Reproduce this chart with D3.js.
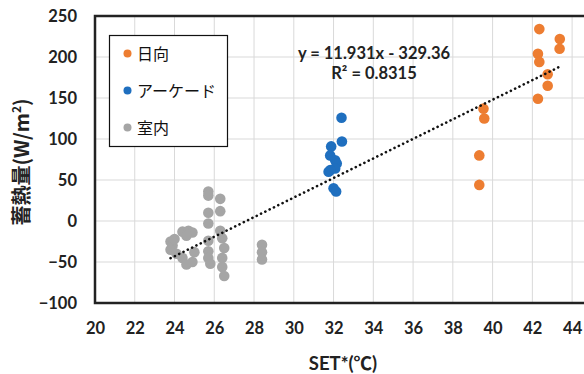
<!DOCTYPE html>
<html>
<head>
<meta charset="utf-8">
<script src="https://cdn.jsdelivr.net/npm/d3@7"></script>
<style>
  body { margin: 0; background: #fff; }
  svg { display: block; font-family: Lato, 'Noto Sans CJK JP', sans-serif; }
  .tick-label { font-size: 16.5px; font-weight: bold; fill: #222; }
  .eq { font-size: 16.5px; font-weight: bold; fill: #222; }
  .legend-label { font-size: 16px; fill: #111; font-family: 'Noto Sans CJK JP', sans-serif; }
</style>
</head>
<body>
<svg></svg>
<script>
// series data: [SET*, heat storage]
const sunny = [
  [42.35, 234], [43.38, 222], [43.37, 210], [42.28, 204], [42.35, 194],
  [42.77, 179], [42.77, 165], [42.28, 149], [39.54, 137], [39.58, 125],
  [39.33, 80], [39.33, 44]
]
const arcade = [
  [32.4, 126], [32.42, 97], [31.88, 91], [31.83, 80], [32.08, 74],
  [32.16, 70], [32.08, 64], [31.83, 62], [31.75, 60], [32.0, 40], [32.13, 36]
]
const indoor = [
  [23.8, -25], [23.9, -30], [23.8, -35], [24.0, -22], [24.1, -40],
  [24.4, -13], [24.7, -12], [24.9, -14], [24.6, -18],
  [24.4, -45], [24.6, -53], [24.9, -50], [25.0, -38],
  [25.7, 36], [25.7, 31], [26.3, 27], [26.3, 12], [25.7, 10], [25.7, -3], [26.3, -12],
  [25.7, -24], [25.7, -37], [25.7, -45], [25.8, -52],
  [26.4, -21], [26.5, -33], [26.4, -45], [26.4, -56], [26.5, -67],
  [28.4, -29], [28.4, -38], [28.4, -47]
]
const seriesNames = ['日向', 'アーケード', '室内']
const seriesColors = ['#ED7D31', '#1F6FBF', '#A5A5A5']
const xTicks = [20, 22, 24, 26, 28, 30, 32, 34, 36, 38, 40, 42, 44]
const yTicks = [-100, -50, 0, 50, 100, 150, 200, 250]
const slope = 11.931
const intercept = -329.36
const eqLines = ['y = 11.931x - 329.36', 'R² = 0.8315']

const w = 584
const h = 374
const plotLeft = 95
const plotTop = 16
const plotBottom = 303
const plotRight = 592

const svg = d3.select('svg')
  .attr('width', w)
  .attr('height', h)

const xScale = d3.scaleLinear().domain([20, 45]).range([plotLeft, plotRight])
const yScale = d3.scaleLinear().domain([-100, 250]).range([plotBottom, plotTop])

// grid
svg.append('g')
  .selectAll('line')
  .data(xTicks.slice(1))
  .enter()
  .append('line')
  .attr('x1', d => xScale(d))
  .attr('x2', d => xScale(d))
  .attr('y1', plotTop)
  .attr('y2', plotBottom)
  .attr('stroke', '#d9d9d9')

svg.append('g')
  .selectAll('line')
  .data(yTicks.slice(1))
  .enter()
  .append('line')
  .attr('x1', plotLeft)
  .attr('x2', plotRight)
  .attr('y1', d => yScale(d))
  .attr('y2', d => yScale(d))
  .attr('stroke', '#d9d9d9')

// axes (labels only, frame drawn separately)
const xAxis = d3.axisBottom(xScale).tickValues(xTicks).tickSize(0).tickPadding(19)
const gx = svg.append('g')
  .attr('transform', `translate(0, ${plotBottom})`)
  .call(xAxis)
gx.select('.domain').remove()
gx.attr('font-size', null).attr('font-family', null)
gx.selectAll('text').attr('class', 'tick-label')

const yAxis = d3.axisLeft(yScale).tickValues(yTicks).tickSize(0).tickPadding(18)
const gy = svg.append('g')
  .attr('transform', `translate(${plotLeft}, 0)`)
  .call(yAxis)
gy.select('.domain').remove()
gy.attr('font-size', null).attr('font-family', null)
gy.selectAll('text').attr('class', 'tick-label')

// plot frame
svg.append('rect')
  .attr('x', plotLeft)
  .attr('y', plotTop)
  .attr('width', plotRight - plotLeft)
  .attr('height', plotBottom - plotTop)
  .attr('fill', 'none')
  .attr('stroke', '#222')
  .attr('stroke-width', 2.5)

// points
const allSeries = [sunny, arcade, indoor]
allSeries.forEach((s, i) => {
  svg.append('g')
    .selectAll('circle')
    .data(s)
    .enter()
    .append('circle')
    .attr('cx', d => xScale(d[0]))
    .attr('cy', d => yScale(d[1]))
    .attr('r', 5.3)
    .attr('fill', seriesColors[i])
})

// linear trendline across the data range
const allX = allSeries.flat().map(d => d[0])
const x0 = d3.min(allX)
const x1 = d3.max(allX)
svg.append('line')
  .attr('x1', xScale(x0))
  .attr('y1', yScale(slope * x0 + intercept))
  .attr('x2', xScale(x1))
  .attr('y2', yScale(slope * x1 + intercept))
  .attr('stroke', '#111')
  .attr('stroke-width', 2.6)
  .attr('stroke-linecap', 'round')
  .attr('stroke-dasharray', '0.1 4.7')

// equation
svg.selectAll('.eq')
  .data(eqLines)
  .enter()
  .append('text')
  .attr('class', 'eq')
  .attr('text-anchor', 'middle')
  .attr('x', 374)
  .attr('y', (d, i) => 59 + i * 20)
  .text(d => d)

// legend
svg.append('rect')
  .attr('x', 109.5)
  .attr('y', 35.5)
  .attr('width', 118)
  .attr('height', 111)
  .attr('fill', '#fff')
  .attr('stroke', '#111')
  .attr('stroke-width', 1.2)

seriesNames.forEach((name, i) => {
  svg.append('circle')
    .attr('cx', 127.5)
    .attr('cy', 53.5 + i * 37)
    .attr('r', 4)
    .attr('fill', seriesColors[i])
  svg.append('text')
    .attr('class', 'legend-label')
    .attr('x', 137)
    .attr('y', 59.5 + i * 37)
    .text(name)
})

// axis titles
svg.append('text')
  .attr('text-anchor', 'middle')
  .attr('x', 343)
  .attr('y', 370)
  .attr('font-size', 18.5)
  .attr('font-weight', 'bold')
  .attr('fill', '#222')
  .text('SET*(℃)')

svg.append('text')
  .attr('text-anchor', 'middle')
  .attr('transform', 'translate(29, 162)rotate(-90)')
  .attr('font-size', 20)
  .attr('font-weight', 'bold')
  .attr('fill', '#222')
  .style('font-family', "'Noto Sans CJK JP', sans-serif")
  .html('蓄熱量(W/m<tspan dy="-8" font-size="12">2</tspan><tspan dy="8">)</tspan>')
</script>
</body>
</html>
